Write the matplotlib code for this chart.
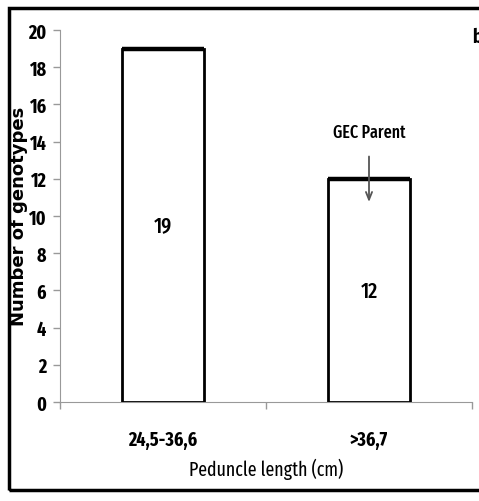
import matplotlib
matplotlib.use("Agg")
import matplotlib.pyplot as plt
from matplotlib.patches import Rectangle

categories = ["24,5-36,6", ">36,7"]
counts = [19, 12]
yticks = list(range(0, 21, 2))
arrow_top, arrow_bottom = 13.2, 10.75
annot_text = "GEC Parent"
annot_y = 14.5

nf = ["Fira Sans Extra Condensed", "DejaVu Sans"]

fig = plt.figure(figsize=(4.79, 5.02), dpi=100)
ax = fig.add_axes([60/479, 1-403/502, (472-60)/479, (403-31)/502])

x = list(range(len(categories)))
ax.bar(x, counts, width=0.4, color="white", edgecolor="black", linewidth=2.0, zorder=3)
ax.hlines(counts, [xi - 0.2 for xi in x], [xi + 0.2 for xi in x], color="black", linewidth=3.2, zorder=4)
for xi, c in zip(x, counts):
    ax.text(xi, c/2, str(c), ha="center", va="center", fontsize=15.5, family=nf, fontweight="medium", zorder=4)

ax.set_xlim(-0.5, 1.5)
ax.set_ylim(0, 20)
ax.set_yticks(yticks)
ax.set_yticklabels([str(t) for t in yticks], family=nf, fontsize=14, fontweight="bold")
ax.set_xticks([-0.5, 0.5, 1.5])
ax.set_xticklabels(["", "", ""])
ax.set_xticks(x, minor=True)
ax.set_xticklabels(categories, minor=True, family=nf, fontsize=14, fontweight="bold")
ax.tick_params(axis="x", which="minor", length=0, pad=20)
ax.tick_params(axis="x", which="major", length=5, color="#999999", width=1)
ax.tick_params(axis="y", length=5, color="#999999", width=1, pad=5)
for s in ["top", "right"]:
    ax.spines[s].set_visible(False)
ax.spines["left"].set_color("#999999")
ax.spines["bottom"].set_color("#999999")

ax.set_xlabel("Peduncle length (cm)", family=nf, fontsize=14)
ax.xaxis.set_label_coords(0.5, -(459-403)/372)
ax.set_ylabel("Number of genotypes", family="DejaVu Sans", fontsize=13, fontweight="bold")
ax.yaxis.set_label_coords(-(60-28)/412, (403-216)/372)

ax.annotate("", xy=(1, arrow_bottom), xytext=(1, arrow_top),
            arrowprops=dict(arrowstyle="->,head_length=0.55,head_width=0.22", color="#555555", lw=1.3,
                            shrinkA=0, shrinkB=0), zorder=5)
ax.text(1, annot_y, annot_text, ha="center", va="center", family=nf, fontsize=12.5, fontweight="medium")

fig.text(472/479, 1-37/502, "b", family=nf, fontsize=14, fontweight="bold", ha="left", va="center")

fig.patches.append(Rectangle((9/479, 1-491/502), 1.0, (491-9)/502, transform=fig.transFigure,
                             fill=False, edgecolor="black", linewidth=2.5))

fig.savefig("out.png", dpi=100)
